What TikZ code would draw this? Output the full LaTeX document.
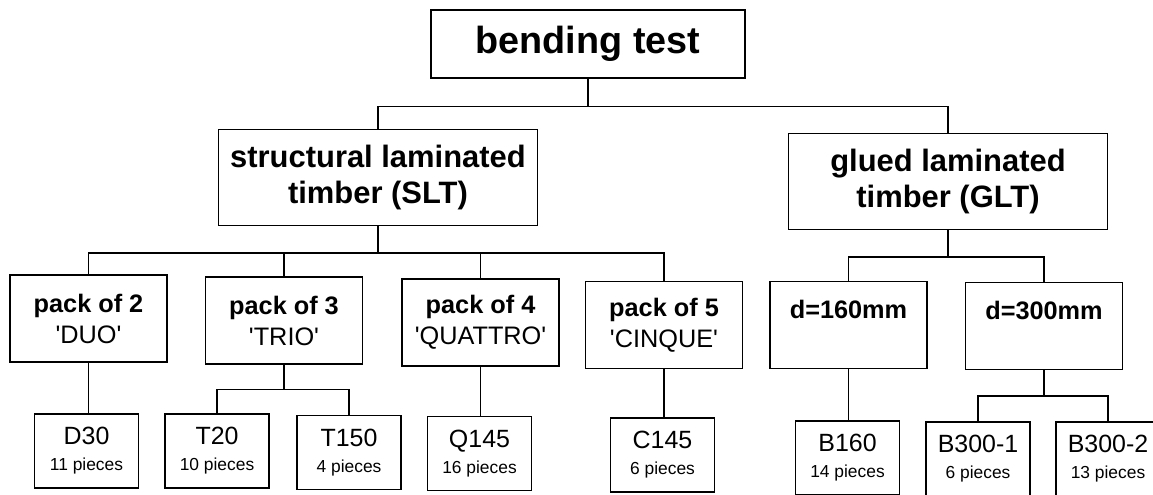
\documentclass[tikz,border=0pt]{standalone}
\usepackage{fontspec}
\setmainfont{Liberation Sans}
\newcommand{\qt}[1]{\textquotesingle#1\textquotesingle}
\newcommand{\lot}[2]{#1\\{\fontsize{9.9}{14.7}\selectfont #2}}

\begin{document}
\begin{tikzpicture}[x=0.02cm,y=-0.02cm,
  box/.style={draw,line width=0.8pt,inner sep=0pt,align=center},
  rootbox/.style={box,minimum width=6.28cm,minimum height=1.36cm,font=\bfseries\fontsize{21.5}{25}\selectfont},
  matbox/.style={box,minimum width=6.38cm,minimum height=1.92cm,font=\bfseries\fontsize{17.6}{20.4}\selectfont},
  packbox/.style={box,minimum width=3.14cm,minimum height=1.74cm,font=\fontsize{14.4}{17.6}\selectfont},
  testbox/.style={box,minimum width=2.08cm,minimum height=1.48cm,font=\fontsize{14.2}{14.7}\selectfont},
  link/.style={line width=0.8pt}
]
\useasboundingbox (0,0) rectangle (1153,494);
\clip (0,0) rectangle (1153,494);

% levels 1 and 2
\node[rootbox] (bt) at (588,44) {bending test};
\node[matbox] (slt) at (378,177.5) {structural laminated\\timber (SLT)};
\node[matbox] (glt) at (948,181.5) {glued laminated\\timber (GLT)};

% level 3
\node[packbox] (p2) at (88.5,318.5) {\textbf{pack of 2}\\\qt{DUO}};
\node[packbox] (p3) at (284,320.5) {\textbf{pack of 3}\\\qt{TRIO}};
\node[packbox] (p4) at (480.5,322.5) {\textbf{pack of 4}\\\qt{QUATTRO}};
\node[packbox] (p5) at (664,325) {\textbf{pack of 5}\\\qt{CINQUE}};
\node[packbox] (d160) at (848.5,325) {\textbf{d=160mm}\\\mbox{}};
\node[packbox] (d300) at (1044,326) {\textbf{d=300mm}\\\mbox{}};

% test series
\node[testbox] (d30) at (86.5,451) {\lot{D30}{11 pieces}};
\node[testbox] (t20) at (217,451) {\lot{T20}{10 pieces}};
\node[testbox] (t150) at (349,452.5) {\lot{T150}{4 pieces}};
\node[testbox] (q145) at (479.5,453.5) {\lot{Q145}{16 pieces}};
\node[testbox] (c145) at (662.5,455) {\lot{C145}{6 pieces}};
\node[testbox] (b160) at (847.5,458) {\lot{B160}{14 pieces}};
\node[testbox] (b300a) at (978,459) {\lot{B300-1}{6 pieces}};
\node[testbox] (b300b) at (1108,459) {\lot{B300-2}{13 pieces}};

% connectors
\foreach \n in {slt,glt}
  \draw[link] (bt.south) -- ++(0,28) -| (\n.north);
\foreach \n in {p2,p3,p4,p5}
  \draw[link] (slt.south) -- ++(0,27) -| (\n.north);
\foreach \n in {d160,d300}
  \draw[link] (glt.south) -- ++(0,27) -| (\n.north);
\foreach \n in {t20,t150}
  \draw[link] (p3.south) -- ++(0,25) -| (\n.north);
\foreach \n in {b300a,b300b}
  \draw[link] (d300.south) -- ++(0,26) -| (\n.north);
\draw[link] (p2.south) -- (p2.south |- d30.north);
\draw[link] (p4.south) -- (p4.south |- q145.north);
\draw[link] (p5.south) -- (p5.south |- c145.north);
\draw[link] (d160.south) -- (d160.south |- b160.north);
\end{tikzpicture}
\end{document}
